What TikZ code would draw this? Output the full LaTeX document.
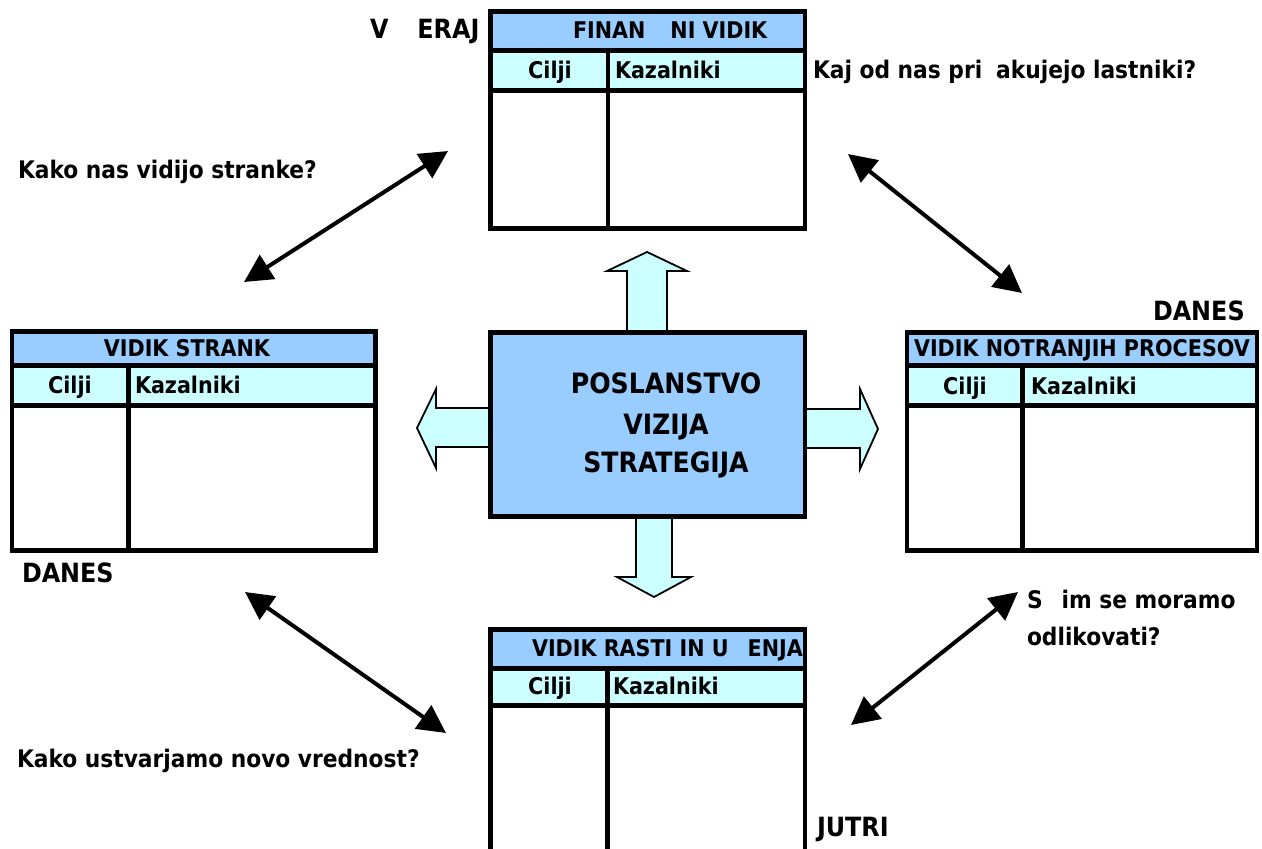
\documentclass[tikz,border=0pt]{standalone}
\usepackage{fontspec}
\setmainfont{DejaVu Sans Condensed}
\usetikzlibrary{arrows.meta}
\definecolor{hdrblue}{HTML}{99CCFF}
\definecolor{rowcyan}{HTML}{CCFFFF}

% one perspective card: left, right, top, header rule, column-title rule, bottom, divider
\newcommand\drawcard[7]{%
  \fill[hdrblue] (#1,#3) rectangle (#2,#4);
  \fill[rowcyan] (#1,#4) rectangle (#2,#5);
  \fill[white] (#1,#5) rectangle (#2,#6);
  \draw[frame] (#1,#3) rectangle (#2,#6);
  \draw[frame] (#1,#4) -- (#2,#4);
  \draw[frame] (#1,#5) -- (#2,#5);
  \draw[frame] (#7,#4) -- (#7,#6);
}

\begin{document}
\begin{tikzpicture}[x=1pt,y=-1pt,
  frame/.style={line width=4.5pt, draw=black, line join=miter},
  blockarrow/.style={fill=rowcyan, draw=black, line width=1.8pt, line join=miter},
  twoway/.style={line width=4pt,
    {Triangle[length=28pt,width=28pt]}-{Triangle[length=28pt,width=28pt]}},
  txt/.style={font=\bfseries\fontsize{#1}{#1}\selectfont, inner sep=0pt, outer sep=0pt},
  txt/.default=24.2,
  caps/.style={txt=26.5},
  hdr/.style={txt=23},
  mid/.style={txt=28}
]
\useasboundingbox (0,0) rectangle (1262,849);
\clip (0,0) rectangle (1262,849);
\fill[white] (0,0) rectangle (1262,849);

% block arrows leaving the central box
\draw[blockarrow] (627,334) -- (627,271) -- (607,271) -- (647,252) -- (687,271) -- (667,271) -- (667,334) -- cycle;
\draw[blockarrow] (636,515) -- (636,577) -- (617,577) -- (654,597) -- (691,577) -- (672,577) -- (672,515) -- cycle;
\draw[blockarrow] (492,408) -- (436,408) -- (436,389) -- (417,428) -- (436,468) -- (436,447) -- (492,447) -- cycle;
\draw[blockarrow] (803,409) -- (860,409) -- (860,389) -- (878,429) -- (860,469) -- (860,448) -- (803,448) -- cycle;

% central box
\node[frame, fill=hdrblue, anchor=north west, minimum width=314.5pt, minimum height=184pt,
      inner sep=0pt, outer sep=0pt] (core) at (490.5,332.5) {};
\node[mid, anchor=base] (mission) at (666,393) {POSLANSTVO};
\node[mid, anchor=base] (vision) at (666,434) {VIZIJA};
\node[mid, anchor=base] (strategy) at (666,472) {STRATEGIJA};

% the four perspective cards
\drawcard{490.5}{805}{11.5}{50.5}{90.5}{228.5}{608}
\drawcard{12}{375.5}{331.5}{365.5}{405.5}{550.5}{128.5}
\drawcard{907}{1257}{332.5}{365.5}{405.5}{550.5}{1022.5}
\drawcard{490.5}{805}{629.5}{668.5}{705.5}{870}{607.5}

% card titles
\node[hdr, anchor=base west] (finT) at (573,38) {FINAN\hspace{25pt}NI VIDIK};
\node[hdr, anchor=base] (finC) at (550,78) {Cilji};
\node[hdr, anchor=base west] (finK) at (615,78) {Kazalniki};

\node[hdr, anchor=base] (custT) at (187,356) {VIDIK STRANK};
\node[hdr, anchor=base] (custC) at (70,393) {Cilji};
\node[hdr, anchor=base west] (custK) at (135,393) {Kazalniki};

\node[hdr, anchor=base] (procT) at (1082,356) {VIDIK NOTRANJIH PROCESOV};
\node[hdr, anchor=base] (procC) at (965,394) {Cilji};
\node[hdr, anchor=base west] (procK) at (1031,394) {Kazalniki};

\node[hdr, anchor=base west] (growT) at (532,656) {VIDIK RASTI IN U\hspace{19pt}ENJA};
\node[hdr, anchor=base] (growC) at (550,694) {Cilji};
\node[hdr, anchor=base west] (growK) at (613,694) {Kazalniki};

% time labels and questions
\node[caps, anchor=base west] (yesterday) at (370,38) {V\hspace{29pt}ERAJ};
\node[caps, anchor=base west] (todayR) at (1153,320) {DANES};
\node[caps, anchor=base west] (todayL) at (22,582) {DANES};
\node[caps, anchor=base west] (tomorrow) at (817,836) {JUTRI};
\node[txt, anchor=base west] (qOwners) at (813,78) {Kaj od nas pri\hspace{14pt}akujejo lastniki?};
\node[txt, anchor=base west] (qCustomers) at (18,178) {Kako nas vidijo stranke?};
\node[txt, anchor=base west] (qValue) at (17,767) {Kako ustvarjamo novo vrednost?};
\node[txt, anchor=base west] (qExcel1) at (1027,608) {S\hspace{19pt}im se moramo};
\node[txt, anchor=base west] (qExcel2) at (1027,645) {odlikovati?};

% two-way links between neighbouring perspectives
\coordinate (lnkA1) at (244,282);
\coordinate (lnkA2) at (448,151);
\coordinate (lnkB1) at (848,154);
\coordinate (lnkB2) at (1022,293);
\coordinate (lnkC1) at (245,592);
\coordinate (lnkC2) at (446,733);
\coordinate (lnkD1) at (1018,592);
\coordinate (lnkD2) at (851,725);
\draw[twoway] (lnkA1) -- (lnkA2);
\draw[twoway] (lnkB1) -- (lnkB2);
\draw[twoway] (lnkC1) -- (lnkC2);
\draw[twoway] (lnkD1) -- (lnkD2);
\end{tikzpicture}
\end{document}
